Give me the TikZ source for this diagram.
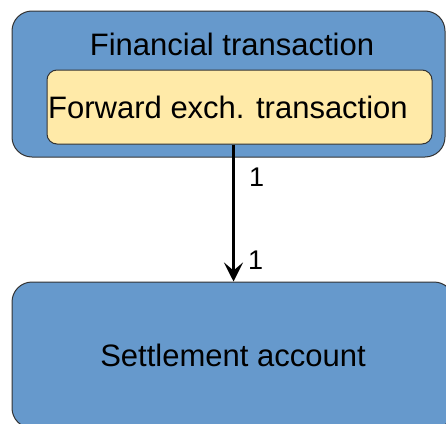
\documentclass[tikz,border=0pt]{standalone}
\usepackage{fontspec}
\setmainfont{Liberation Sans}
\usetikzlibrary{arrows.meta}
\definecolor{boxblue}{HTML}{6699CC}
\definecolor{boxyellow}{HTML}{FFEAA8}
\definecolor{edgegray}{HTML}{333333}
\tikzset{
  bluebox/.style={draw=edgegray, line width=1pt, fill=boxblue, rounded corners=20pt, inner sep=0pt},
  yellowbox/.style={draw=edgegray, line width=1pt, fill=boxyellow, rounded corners=10pt, inner sep=0pt},
  bigtext/.style={font=\fontsize{31}{37}\selectfont, inner sep=0pt},
  multlabel/.style={font=\fontsize{27}{32}\selectfont, inner sep=0pt, anchor=base west},
  conn/.style={line width=3.2pt, -{Stealth[length=19pt, width=19pt, inset=8pt]}}
}
\begin{document}
\begin{tikzpicture}[x=1pt, y=-1pt]
\useasboundingbox (0,0) rectangle (446,423);
\clip (0,0) rectangle (446,423);
% outer box
\node[bluebox, minimum width=433pt, minimum height=146pt] (fin) at (228.5,84) {};
\node[bigtext, anchor=base] (fintext) at (232,55) {Financial transaction};
% inner box
\node[yellowbox, minimum width=385pt, minimum height=74pt] (fwd) at (239.5,107) {};
\node[bigtext, anchor=base] (fwdtext) at (228,118) {Forward exch. transaction};
% bottom box
\node[bluebox, minimum width=442pt, minimum height=146pt] (settle) at (233,355) {};
\node[bigtext, anchor=base] (settletext) at (233,366) {Settlement account};
% connector
\draw[conn] ([xshift=187pt]fwd.south west) -- ([xshift=222pt]settle.north west);
\node[multlabel] (m1) at (249,186) {1};
\node[multlabel] (m2) at (248,269) {1};
\end{tikzpicture}
\end{document}
